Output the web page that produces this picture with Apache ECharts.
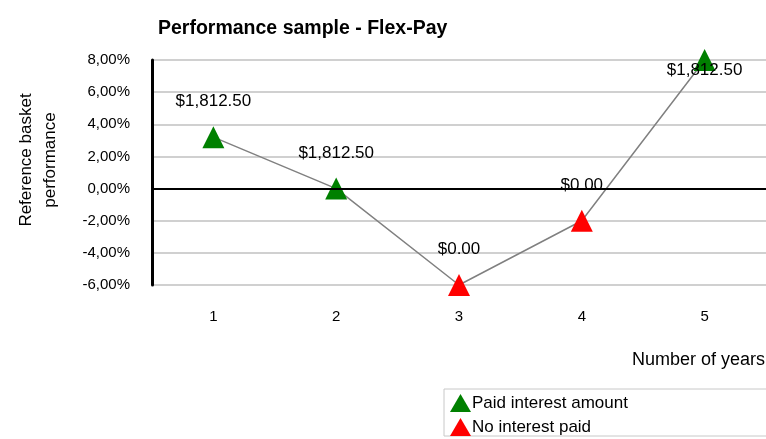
<!DOCTYPE html>
<html>
<head>
<meta charset="utf-8">
<script src="https://cdn.jsdelivr.net/npm/echarts@6/dist/echarts.min.js"></script>
<style>
  html, body { margin: 0; padding: 0; background: #fff; }
  #chart { width: 766px; height: 439px; }
</style>
</head>
<body>
<div id="chart"></div>
<script>
// years on the x axis
const years = ['1', '2', '3', '4', '5'];
// reference basket performance in %
const performance = [3.2, 0, -6, -2, 8];
// interest paid each year in $
const interest = [1812.5, 1812.5, 0, 0, 1812.5];
const yTicks = [-6, -4, -2, 0, 2, 4, 6, 8];

const chart = echarts.init(document.getElementById('chart'));

const fmtMoney = v => '$' + v.toLocaleString('en-US', { minimumFractionDigits: 2, maximumFractionDigits: 2 });

const paid = performance.map((v, i) => interest[i] > 0 ? v : null);
const unpaid = performance.map((v, i) => interest[i] > 0 ? null : v);

const labelCfg = {
    show: true,
    position: 'top',
    distance: 16,
    color: '#000',
    fontFamily: 'Liberation Sans',
    fontSize: 17,
    formatter: p => fmtMoney(interest[p.dataIndex])
};

chart.setOption({
    animation: false,
    textStyle: { fontFamily: 'Liberation Sans' },
    title: [
        {
            text: 'Performance sample - Flex-Pay',
            left: 153, top: 14,
            textStyle: { fontSize: 19.5, fontWeight: 'bold', color: '#000' }
        },
        {
            text: 'Number of years',
            right: -4, top: 346,
            textStyle: { fontSize: 18, fontWeight: 'normal', color: '#000' }
        }
    ],
    graphic: [
        {
            type: 'text',
            x: 14, y: 160,
            rotation: Math.PI / 2,
            style: {
                text: 'Reference basket\nperformance',
                fontFamily: 'Liberation Sans',
                fontSize: 17,
                lineHeight: 24,
                fill: '#000',
                align: 'center',
                verticalAlign: 'top'
            }
        }
    ],
    legend: {
        orient: 'vertical',
        left: 444, top: 389,
        padding: [5, 200, 0, 6],
        itemGap: 6,
        itemWidth: 21,
        itemHeight: 18,
        borderColor: '#c8c8c8',
        borderWidth: 1,
        textStyle: { fontSize: 17, lineHeight: 18, color: '#000', padding: [0, 0, 0, -4] },
        data: [
            { name: 'Paid interest amount', icon: 'triangle' },
            { name: 'No interest paid', icon: 'triangle' }
        ]
    },
    grid: { left: 152, right: 0, top: 60, bottom: 154, containLabel: false },
    xAxis: {
        type: 'category',
        data: years,
        boundaryGap: true,
        axisLine: { show: false },
        axisTick: { show: false },
        axisLabel: { margin: 24, fontSize: 15, color: '#000' },
        splitLine: { show: false }
    },
    yAxis: {
        type: 'value',
        min: yTicks[0],
        max: yTicks[yTicks.length - 1],
        interval: 2,
        axisLine: { show: true, lineStyle: { color: '#000', width: 3 } },
        axisTick: { show: false },
        axisLabel: {
            margin: 22,
            fontSize: 15,
            color: '#000',
            formatter: v => v.toFixed(2).replace('.', ',') + '%'
        },
        splitLine: { lineStyle: { color: '#d0d0d0', width: 2 } }
    },
    series: [
        {
            name: 'performance',
            type: 'line',
            data: performance,
            symbol: 'none',
            lineStyle: { color: '#808080', width: 1.5 },
            z: 2,
            markLine: {
                silent: true,
                symbol: 'none',
                label: { show: false },
                lineStyle: { color: '#000', width: 2, type: 'solid' },
                data: [{ yAxis: 0 }]
            }
        },
        {
            name: 'Paid interest amount',
            type: 'scatter',
            data: paid.map((v, i) => i === paid.length - 1 && v !== null
                ? { value: v, label: { position: 'inside', offset: [0, 10] } }
                : v),
            symbol: 'triangle',
            symbolSize: [22, 22],
            itemStyle: { color: '#008000', opacity: 1 },
            label: labelCfg,
            clip: false,
            z: 3
        },
        {
            name: 'No interest paid',
            type: 'scatter',
            data: unpaid,
            symbol: 'triangle',
            symbolSize: [22, 22],
            itemStyle: { color: '#ff0000', opacity: 1 },
            label: labelCfg,
            clip: false,
            z: 3
        }
    ]
});
</script>
</body>
</html>
